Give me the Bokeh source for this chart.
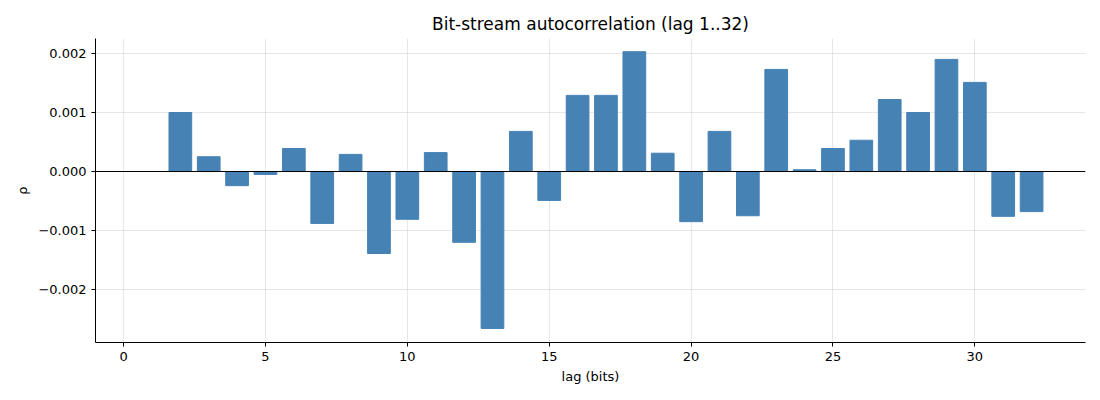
from bokeh.plotting import figure
from bokeh.embed import file_html
from bokeh.resources import INLINE
from bokeh.models import Range1d, Span, FixedTicker, CustomJSTickFormatter

lags = list(range(1, 33))
rho = [0.0, 0.00100, 0.00025, -0.00024, -0.00005, 0.00039, -0.00088, 0.00029,
       -0.00139, -0.00081, 0.00032, -0.00120, -0.00266, 0.00068, -0.00049, 0.00129,
       0.00129, 0.00203, 0.00031, -0.00085, 0.00068, -0.00075, 0.00173, 0.00003,
       0.00039, 0.00053, 0.00122, 0.00100, 0.00190, 0.00151, -0.00076, -0.00068]

p = figure(width=1092, height=392, output_backend="svg", toolbar_location=None,
           title="Bit-stream autocorrelation (lag 1..32)",
           x_range=Range1d(-0.99, 33.9), y_range=Range1d(-0.002898, 0.002254),
           min_border_left=95, min_border_right=7, min_border_top=38, min_border_bottom=50)
p.title.align = "center"
p.title.text_font = "DejaVu Sans"
p.title.text_font_size = "17px"
p.title.text_font_style = "normal"
p.title.text_color = "black"
p.vbar(x=lags, top=rho, width=0.8, color="#4682b4")
p.add_layout(Span(location=0, dimension="width", line_color="black", line_width=1))
p.xaxis.ticker = FixedTicker(ticks=[0, 5, 10, 15, 20, 25, 30])
p.yaxis.ticker = FixedTicker(ticks=[-0.002, -0.001, 0, 0.001, 0.002])
p.xaxis.axis_label = "lag (bits)"
p.yaxis.axis_label = "ρ"
for ax in (p.xaxis[0], p.yaxis[0]):
    ax.axis_label_text_font = "DejaVu Sans"
    ax.axis_label_text_font_style = "normal"
    ax.axis_label_text_font_size = "13px"
    ax.axis_label_text_color = "black"
    ax.major_label_text_font = "DejaVu Sans"
    ax.major_label_text_font_size = "13px"
    ax.major_label_text_color = "black"
    ax.minor_tick_line_color = None
    ax.major_tick_in = 0
    ax.major_tick_out = 4
    ax.axis_line_color = "black"
    ax.major_tick_line_color = "black"
p.yaxis.formatter = CustomJSTickFormatter(code="return (tick<0?'\u2212':'') + Math.abs(tick).toFixed(3);")
p.grid.grid_line_color = "#b0b0b0"
p.grid.grid_line_alpha = 0.3
p.outline_line_color = None
p.background_fill_color = "white"

open("out.html", "w").write(file_html(p, INLINE))
